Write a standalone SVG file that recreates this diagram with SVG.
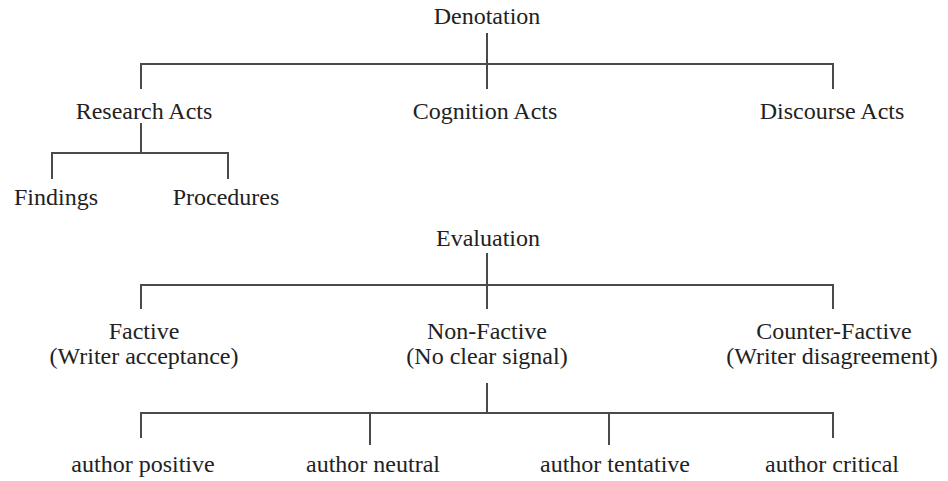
<svg xmlns="http://www.w3.org/2000/svg" width="948" height="481" viewBox="0 0 948 481">
<style>
text{font-family:"Liberation Serif","Times New Roman",serif;font-size:24px;fill:#222;text-anchor:middle}
.c{stroke:#4a4a4a;stroke-width:2;fill:none}
</style>
<rect width="948" height="481" fill="#fff"/>
<g id="connectors">
<path class="c" d="M487 33V89M141 89V64H833V89"/>
<path class="c" d="M141 123V153M52 179V153H228V179"/>
<path class="c" d="M487 253V309M141 309V285H833V309"/>
<path class="c" d="M487 383V413M141 438V413H833V438M370 413V445M609 413V445"/>
</g>
<g id="denotation"><text x="487" y="24">Denotation</text></g>
<g id="research-acts"><text x="144" y="119">Research Acts</text></g>
<g id="cognition-acts"><text x="485" y="119">Cognition Acts</text></g>
<g id="discourse-acts"><text x="832" y="119">Discourse Acts</text></g>
<g id="findings"><text x="56" y="205">Findings</text></g>
<g id="procedures"><text x="226" y="205">Procedures</text></g>
<g id="evaluation"><text x="488" y="246">Evaluation</text></g>
<g id="factive"><text x="144" y="339">Factive</text><text x="144" y="364">(Writer acceptance)</text></g>
<g id="non-factive"><text x="487" y="339">Non-Factive</text><text x="487" y="364">(No clear signal)</text></g>
<g id="counter-factive"><text x="834" y="339">Counter-Factive</text><text x="832" y="364">(Writer disagreement)</text></g>
<g id="author-positive"><text x="143" y="472">author positive</text></g>
<g id="author-neutral"><text x="373" y="472">author neutral</text></g>
<g id="author-tentative"><text x="615" y="472">author tentative</text></g>
<g id="author-critical"><text x="832" y="472">author critical</text></g>
</svg>
